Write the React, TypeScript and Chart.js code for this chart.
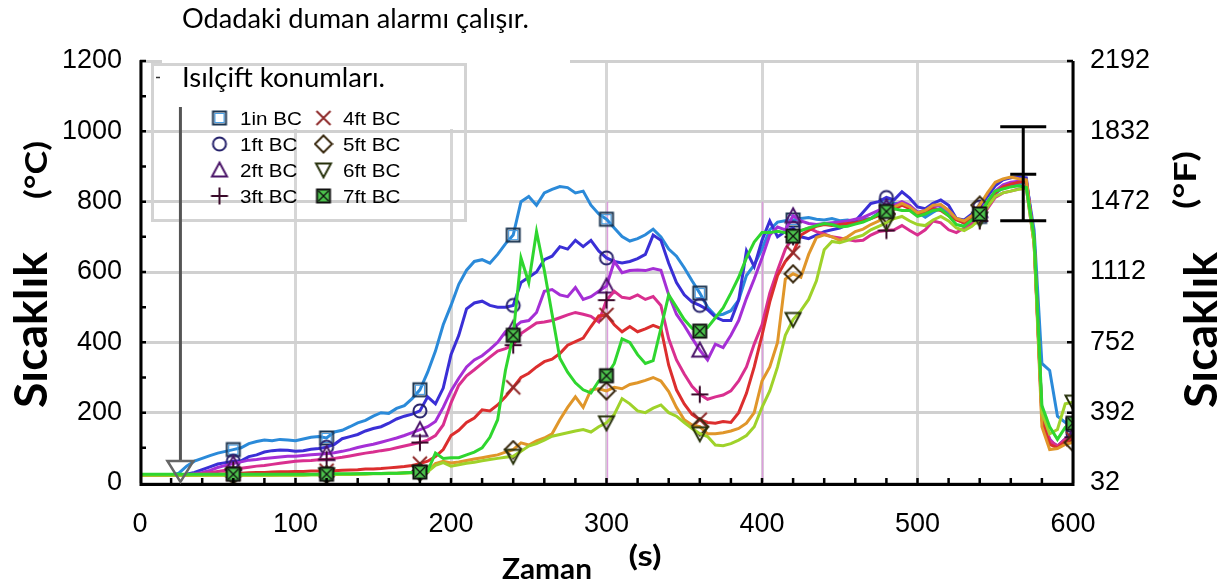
import React, { useEffect, useRef } from 'react';
import { Chart, registerables } from 'chart.js';

Chart.register(...registerables);

// ---------- data ----------
const timeS = [
  0, 5, 10, 15, 20, 25, 30, 35, 40, 45,
  50, 55, 60, 65, 70, 75, 80, 85, 90, 95,
  100, 105, 110, 115, 120, 125, 130, 135, 140, 145,
  150, 155, 160, 165, 170, 175, 180, 185, 190, 195,
  200, 205, 210, 215, 220, 225, 230, 235, 240, 245,
  250, 255, 260, 265, 270, 275, 280, 285, 290, 295,
  300, 305, 310, 315, 320, 325, 330, 335, 340, 345,
  350, 355, 360, 365, 370, 375, 380, 385, 390, 395,
  400, 405, 410, 415, 420, 425, 430, 435, 440, 445,
  450, 455, 460, 465, 470, 475, 480, 485, 490, 495,
  500, 505, 510, 515, 520, 525, 530, 535, 540, 545,
  550, 555, 560, 565, 570, 575, 580, 585, 590, 595,
  600,
];

const t1in = [
  22, 22, 22, 22, 23, 28, 48, 62, 70, 78,
  85, 90, 95, 100, 112, 118, 122, 120, 124, 122,
  120, 125, 130, 132, 128, 145, 150, 160, 171, 178,
  190, 200, 198, 212, 220, 240, 265, 315, 375, 450,
  505, 565, 605, 630, 635, 625, 650, 680, 705, 800,
  815, 790, 825, 835, 843, 840, 825, 830, 790, 765,
  750, 725, 701, 688, 695, 706, 722, 700, 665, 645,
  612, 575, 540, 500, 476, 480, 490, 520, 590, 620,
  665, 720, 742, 746, 748, 752, 755, 750, 748, 752,
  746, 748, 744, 750, 752, 768, 788, 795, 795, 785,
  770, 756, 770, 782, 770, 752, 738, 745, 758, 790,
  822, 840, 846, 850, 856, 720, 340, 320, 190, 172,
  165,
];
const t1ft = [
  22, 22, 22, 22, 22, 23, 25, 30, 38, 46,
  54, 58, 62, 63, 75, 80, 88, 92, 94, 93,
  90, 92, 96, 98, 102, 110, 126, 132, 138, 148,
  155, 160, 170, 182, 190, 196, 205, 245, 225, 270,
  365, 420, 495, 512, 517, 505, 500, 500, 505, 570,
  585, 600, 635, 645, 672, 665, 690, 672, 690, 660,
  640, 630, 626, 630, 638, 650, 705, 690, 625, 570,
  535, 515, 505, 493, 472, 462, 462, 520, 660, 615,
  690, 745, 700, 715, 725, 700, 695, 705, 715, 720,
  725, 735, 745, 770, 795, 800, 812, 805, 828, 810,
  785, 780, 795, 805, 790, 752, 748, 765, 785, 815,
  845, 862, 868, 871, 868, 690, 200, 120, 105, 125,
  140,
];
const t2ft = [
  22, 22, 22, 22, 22, 22, 23, 26, 30, 36,
  44, 50, 55, 60, 65, 67, 70, 72, 74, 76,
  76, 78, 80, 82, 84, 86, 90, 95, 101, 106,
  110, 116, 122, 128, 135, 143, 152, 160, 175, 215,
  262, 298, 330, 350, 362, 380, 400, 430, 440, 458,
  462, 485, 545, 550, 535, 530, 556, 522, 530, 545,
  560, 630, 598, 604, 606, 604, 610, 605, 535, 480,
  448, 412, 378, 350, 395, 385, 420, 462, 525, 580,
  640, 705, 728, 720, 760, 745, 738, 735, 738, 740,
  742, 745, 750, 755, 765, 775, 785, 790, 800, 790,
  770, 775, 785, 790, 775, 750, 742, 755, 775, 800,
  830, 848, 855, 858, 860, 700, 190, 125, 100, 120,
  135,
];
const t3ft = [
  22, 22, 22, 22, 22, 22, 22, 24, 27, 30,
  33, 36, 38, 42, 45, 48, 50, 53, 56, 59,
  62, 63, 64, 66, 67, 70, 73, 77, 81, 85,
  88, 92, 95, 100, 105, 110, 115, 122, 135, 165,
  228, 278, 305, 322, 340, 358, 375, 382, 392, 425,
  440, 455, 458, 462, 470, 478, 485, 480, 474, 458,
  520, 545, 528, 525, 535, 522, 530, 505, 410, 350,
  310, 275, 252, 238, 245, 250, 262, 290, 330, 395,
  450, 540, 605, 665, 700, 718, 725, 715, 708, 700,
  697, 692, 688, 690, 705, 715, 718, 720, 732, 718,
  705, 720, 745, 740, 720, 712, 725, 738, 745, 780,
  812, 825, 830, 836, 838, 680, 200, 120, 105, 125,
  130,
];
const t4ft = [
  22, 22, 22, 22, 22, 22, 22, 22, 23, 24,
  25, 26, 27, 28, 29, 30, 30, 31, 32, 32,
  33, 33, 34, 34, 35, 35, 36, 37, 38, 40,
  40, 41, 43, 45, 47, 50, 55, 62, 75, 95,
  135, 150, 172, 185, 208, 205, 222, 245, 272, 300,
  312, 330, 345, 352, 368, 392, 402, 412, 445, 475,
  478, 450, 430, 445, 430, 438, 448, 440, 335, 265,
  225, 195, 180, 172, 170, 175, 172, 200, 255, 330,
  420, 515, 590, 630, 655, 705, 718, 730, 735, 732,
  735, 738, 740, 745, 752, 760, 770, 778, 790, 780,
  762, 770, 780, 775, 760, 748, 740, 752, 768, 795,
  825, 842, 850, 855, 858, 690, 180, 110, 100, 118,
  125,
];
const t5ft = [
  22, 22, 22, 22, 22, 22, 22, 22, 22, 22,
  22, 22, 22, 22, 22, 22, 22, 22, 23, 23,
  23, 23, 24, 24, 24, 25, 25, 25, 26, 26,
  27, 27, 28, 28, 29, 30, 31, 33, 55, 62,
  57, 60, 64, 68, 72, 76, 80, 88, 95, 114,
  108, 120, 128, 140, 180, 215, 245, 215, 265, 268,
  262, 272, 268, 280, 285, 292, 300, 290, 260, 215,
  180, 165, 160, 140, 140, 143, 148, 155, 170, 200,
  290, 330, 400, 580, 595, 585, 650, 698, 706, 700,
  690, 700, 715, 722, 735, 745, 765, 785, 795, 785,
  768, 775, 790, 792, 775, 752, 745, 760, 790, 825,
  855, 865, 870, 865, 862, 680, 160, 95, 98, 110,
  115,
];
const t6ft = [
  22, 22, 22, 22, 22, 22, 22, 22, 22, 22,
  22, 22, 22, 22, 22, 22, 22, 22, 22, 22,
  22, 22, 23, 23, 23, 24, 24, 24, 25, 25,
  26, 26, 27, 27, 28, 29, 30, 32, 50, 58,
  48, 52, 56, 59, 63, 67, 70, 73, 76, 90,
  105, 112, 122, 133, 138, 143, 148, 152, 145, 160,
  171, 195, 240, 225, 205, 200, 213, 222, 200, 190,
  172, 155, 140, 132, 108, 106, 112, 122, 135, 160,
  215, 262, 330, 420, 465, 490, 522, 575, 663, 687,
  683, 690, 698, 705, 720, 730, 740, 752, 758, 745,
  735, 732, 748, 758, 745, 725, 718, 730, 750, 785,
  815, 825, 830, 835, 838, 680, 200, 140, 152, 225,
  230,
];
const t7ft = [
  25, 25, 25, 25, 25, 25, 25, 25, 25, 25,
  25, 25, 25, 25, 25, 25, 25, 25, 25, 25,
  25, 25, 25, 25, 25, 26, 26, 26, 26, 27,
  27, 27, 28, 28, 29, 30, 31, 34, 85, 70,
  72, 72, 80, 88, 100, 130, 180, 320, 420, 640,
  570, 715, 605, 480, 355, 315, 285, 265, 256, 290,
  305, 340, 410, 400, 365, 340, 348, 440, 535, 500,
  465, 440, 432, 442, 470, 498, 540, 585, 640, 685,
  712, 712, 716, 712, 702, 718, 725, 732, 738, 735,
  728, 730, 736, 742, 752, 765, 772, 780, 775, 775,
  758, 765, 775, 778, 760, 735, 730, 748, 765, 800,
  830, 836, 842, 845, 840, 700, 220, 160, 124, 158,
  170,
];

const seriesNames = ['1in BC', '1ft BC', '2ft BC', '3ft BC', '4ft BC', '5ft BC', '6ft BC', '7ft BC'];
const seriesValues = [t1in, t1ft, t2ft, t3ft, t4ft, t5ft, t6ft, t7ft];
const seriesColors = ['#2b8ad9', '#3a2fd6', '#a52fd6', '#d92f8f', '#dc2e2e', '#e0962a', '#9fd22a', '#2fd62f'];
const markerKinds = ['square', 'circle', 'triangle', 'plus', 'cross', 'diamond', 'invtriangle', 'xsquare'];

const xTickValues = [0, 100, 200, 300, 400, 500, 600];
const yTickC = [0, 200, 400, 600, 800, 1000, 1200];
const yTickF = [32, 392, 752, 1112, 1472, 1832, 2192];

const alarmTime = 26; // smoke alarm activation (s)
const errTime = 568;
const errLow = 746;
const errMid = 878;
const errHigh = 1013;

const guideTimes = [300, 400];

const SANS = '"Liberation Sans", Arial, Helvetica, sans-serif';

// ---------- helpers ----------
function makeMarker(kind: string): HTMLCanvasElement {
  const c = document.createElement('canvas');
  c.width = 20;
  c.height = 20;
  const g = c.getContext('2d')!;
  g.lineJoin = 'miter';
  g.lineCap = 'butt';
  const poly = (pts: number[][]) => {
    g.beginPath();
    g.moveTo(pts[0][0], pts[0][1]);
    for (let i = 1; i < pts.length; i++) g.lineTo(pts[i][0], pts[i][1]);
    g.closePath();
  };
  switch (kind) {
    case 'square':
      g.strokeStyle = '#1b3550';
      g.lineWidth = 2;
      g.strokeRect(3.5, 3.5, 13, 13);
      g.strokeStyle = '#4aa0e6';
      g.lineWidth = 1;
      g.strokeRect(5.5, 5.5, 9, 9);
      break;
    case 'circle':
      g.strokeStyle = '#24206a';
      g.lineWidth = 2;
      g.beginPath();
      g.arc(10, 10, 6.5, 0, Math.PI * 2);
      g.stroke();
      break;
    case 'triangle':
      g.strokeStyle = '#4a1468';
      g.lineWidth = 2;
      poly([[10, 2.5], [17.5, 16.5], [2.5, 16.5]]);
      g.stroke();
      break;
    case 'plus':
      g.strokeStyle = '#3a0a2a';
      g.lineWidth = 2;
      g.beginPath();
      g.moveTo(10, 1.5); g.lineTo(10, 18.5);
      g.moveTo(1.5, 10); g.lineTo(18.5, 10);
      g.stroke();
      break;
    case 'cross':
      g.strokeStyle = '#8e2a2a';
      g.lineWidth = 2;
      g.beginPath();
      g.moveTo(3, 3); g.lineTo(17, 17);
      g.moveTo(17, 3); g.lineTo(3, 17);
      g.stroke();
      break;
    case 'diamond':
      g.strokeStyle = '#3a2a10';
      g.lineWidth = 2;
      poly([[10, 1.5], [18.5, 10], [10, 18.5], [1.5, 10]]);
      g.stroke();
      break;
    case 'invtriangle':
      g.strokeStyle = '#26300a';
      g.lineWidth = 2;
      poly([[2.5, 3.5], [17.5, 3.5], [10, 17.5]]);
      g.stroke();
      break;
    case 'xsquare':
      g.fillStyle = '#4cc24c';
      g.fillRect(3.5, 3.5, 13, 13);
      g.strokeStyle = '#101010';
      g.lineWidth = 2;
      g.strokeRect(3.5, 3.5, 13, 13);
      g.lineWidth = 1.3;
      g.beginPath();
      g.moveTo(5, 5); g.lineTo(15, 15);
      g.moveTo(15, 5); g.lineTo(5, 15);
      g.stroke();
      break;
  }
  return c;
}

function fitText(
  ctx: CanvasRenderingContext2D,
  text: string,
  x: number,
  y: number,
  font: string,
  targetW: number,
  align: CanvasTextAlign,
  rot = 0,
) {
  ctx.save();
  ctx.font = font;
  const w = ctx.measureText(text).width;
  ctx.translate(x, y);
  ctx.rotate(rot);
  ctx.scale(targetW / w, 1);
  ctx.textAlign = align;
  ctx.textBaseline = 'alphabetic';
  ctx.fillStyle = '#000';
  ctx.fillText(text, 0, 0);
  ctx.restore();
}

export default function App() {
  const canvasRef = useRef<HTMLCanvasElement | null>(null);

  useEffect(() => {
    const canvas = canvasRef.current;
    if (!canvas) return;
    const markers = markerKinds.map(makeMarker);

    const overlay = {
      id: 'overlay',
      beforeDatasetsDraw(chart: any) {
        const ctx: CanvasRenderingContext2D = chart.ctx;
        const xs = chart.scales.x;
        const ys = chart.scales.y;
        ctx.save();
        ctx.strokeStyle = 'rgba(225,120,225,0.6)';
        ctx.lineWidth = 1.5;
        guideTimes.forEach((t) => {
          const px = Math.round(xs.getPixelForValue(t)) + 0.5;
          ctx.beginPath();
          ctx.moveTo(px, ys.getPixelForValue(800));
          ctx.lineTo(px, ys.getPixelForValue(0));
          ctx.stroke();
        });
        ctx.restore();
      },
      afterDatasetsDraw(chart: any) {
        const ctx: CanvasRenderingContext2D = chart.ctx;
        const xs = chart.scales.x;
        const ys = chart.scales.y;
        const area = chart.chartArea;

        // error bar
        ctx.save();
        ctx.strokeStyle = '#000';
        ctx.lineWidth = 3;
        const ex = xs.getPixelForValue(errTime);
        const eh = ys.getPixelForValue(errHigh);
        const el = ys.getPixelForValue(errLow);
        const em = ys.getPixelForValue(errMid);
        ctx.beginPath();
        ctx.moveTo(ex, eh); ctx.lineTo(ex, el);
        ctx.moveTo(ex - 23, eh); ctx.lineTo(ex + 23, eh);
        ctx.moveTo(ex - 23, el); ctx.lineTo(ex + 23, el);
        ctx.moveTo(ex - 13, em); ctx.lineTo(ex + 13, em);
        ctx.stroke();
        ctx.restore();

        // axes lines
        ctx.save();
        ctx.strokeStyle = '#000';
        ctx.lineWidth = 3;
        ctx.beginPath();
        ctx.moveTo(area.left + 1, area.top - 1);
        ctx.lineTo(area.left + 1, area.bottom + 3);
        ctx.moveTo(area.left, area.bottom + 1.5);
        ctx.lineTo(area.right + 1.5, area.bottom + 1.5);
        ctx.moveTo(area.right, area.top);
        ctx.lineTo(area.right, area.bottom + 3);
        ctx.stroke();
        // ticks
        ctx.lineWidth = 2.5;
        ctx.beginPath();
        for (let t = 20; t < 600; t += 20) {
          const px = xs.getPixelForValue(t);
          ctx.moveTo(px, area.bottom);
          ctx.lineTo(px, area.bottom - 5);
        }
        for (let v = 100; v <= 1200; v += 100) {
          const py = ys.getPixelForValue(v);
          ctx.moveTo(area.left, py);
          ctx.lineTo(area.left + 6, py);
        }
        for (let v = 200; v <= 1200; v += 200) {
          const py = ys.getPixelForValue(v);
          ctx.moveTo(area.right, py);
          ctx.lineTo(area.right - 6, py);
        }
        ctx.stroke();
        ctx.restore();

        // hide top gridline behind annotation
        ctx.save();
        ctx.fillStyle = '#fff';
        ctx.fillRect(162, 56, 408, 7);
        // legend box
        ctx.fillRect(154, 66, 310, 63);
        ctx.strokeStyle = '#d3d3d3';
        ctx.lineWidth = 3;
        ctx.strokeRect(152.5, 64.5, 313, 156);
        ctx.strokeStyle = '#333';
        ctx.lineWidth = 1.5;
        ctx.beginPath();
        ctx.moveTo(156, 77.5); ctx.lineTo(160, 77.5);
        ctx.stroke();
        ctx.restore();

        // smoke alarm arrow
        const ax = xs.getPixelForValue(alarmTime);
        ctx.save();
        ctx.strokeStyle = '#555';
        ctx.lineWidth = 3;
        ctx.beginPath();
        ctx.moveTo(ax, 107);
        ctx.lineTo(ax, 461);
        ctx.stroke();
        ctx.strokeStyle = '#666';
        ctx.lineWidth = 2.5;
        ctx.beginPath();
        ctx.moveTo(ax - 13, 461);
        ctx.lineTo(ax + 13, 461);
        ctx.lineTo(ax, 482);
        ctx.closePath();
        ctx.stroke();
        ctx.restore();

        // legend title + entries
        fitText(ctx, 'Isılçift konumları.', 182, 87, '26px Lato', 203, 'left');
        const rowsY = [118, 144, 170, 196];
        const colMarkX = [219.5, 323.5];
        const colTextX = [240, 343];
        const legendFont = '18px ' + SANS;
        ctx.save();
        ctx.font = legendFont;
        const baseW = ctx.measureText('1in BC').width;
        ctx.restore();
        const sx = 62 / baseW;
        seriesNames.forEach((name, k) => {
          const col = k < 4 ? 0 : 1;
          const row = k % 4;
          const m = markers[k];
          ctx.drawImage(m, colMarkX[col] - m.width / 2, rowsY[row] - m.height / 2);
          ctx.save();
          ctx.font = legendFont;
          const w = ctx.measureText(name).width;
          ctx.restore();
          fitText(ctx, name, colTextX[col], rowsY[row] + 6.5, legendFont, w * sx, 'left');
        });
      },
      afterDraw(chart: any) {
        const ctx: CanvasRenderingContext2D = chart.ctx;
        fitText(ctx, 'Odadaki duman alarmı çalışır.', 182, 28, '26px Lato', 347, 'left');
        fitText(ctx, 'Sıcaklık', 47, 330, 'bold 46px Lato', 156, 'center', -Math.PI / 2);
        fitText(ctx, '(°C)', 47, 170, 'bold 30px Lato', 58, 'center', -Math.PI / 2);
        fitText(ctx, 'Sıcaklık', 1217, 330, 'bold 46px Lato', 156, 'center', -Math.PI / 2);
        fitText(ctx, '(°F)', 1196, 180, 'bold 30px Lato', 58, 'center', -Math.PI / 2);
        fitText(ctx, 'Zaman', 547, 579, 'bold 29px Lato', 90, 'center');
        fitText(ctx, '(s)', 645, 566, 'bold 28px Lato', 33, 'center');
      },
    };

    const datasets = seriesValues.map((vals, k) => ({
      label: seriesNames[k],
      data: timeS.map((t, i) => ({ x: t, y: vals[i] })),
      borderColor: seriesColors[k],
      backgroundColor: seriesColors[k],
      borderWidth: 3,
      pointStyle: markers[k],
      pointRadius: (c: any) => {
        const t = timeS[c.dataIndex];
        return t > 0 && t % 60 === 0 ? 8 : 0;
      },
      pointHoverRadius: 0,
      tension: 0,
      fill: false,
      order: 7 - k,
      xAxisID: 'x',
      yAxisID: 'y',
    }));

    const tickFont = { family: SANS, size: 27 };

    const chart = new Chart(canvas, {
      type: 'line',
      data: { datasets },
      options: {
        responsive: false,
        animation: false,
        devicePixelRatio: 1,
        layout: { padding: { top: 61, left: 0, right: 0, bottom: 0 } },
        plugins: {
          legend: { display: false },
          tooltip: { enabled: false },
          title: { display: false },
        },
        scales: {
          x: {
            type: 'linear',
            position: 'bottom',
            min: 0,
            max: 600,
            afterBuildTicks: (s: any) => {
              s.ticks = xTickValues.map((v) => ({ value: v }));
            },
            afterFit: (s: any) => {
              s.height = 100;
            },
            ticks: {
              font: tickFont,
              color: '#000',
              padding: 25,
              maxRotation: 0,
              autoSkip: false,
              callback: (v: any) => String(v),
            },
            grid: { color: '#d6d6d6', lineWidth: 3, drawTicks: false },
            border: { display: false },
          },
          y: {
            type: 'linear',
            position: 'left',
            min: 0,
            max: 1200,
            afterBuildTicks: (s: any) => {
              s.ticks = yTickC.map((v) => ({ value: v }));
            },
            afterFit: (s: any) => {
              s.width = 140;
            },
            ticks: {
              font: tickFont,
              color: '#000',
              padding: 18,
              callback: (v: any) => String(v),
            },
            grid: { color: '#d0d0d0', lineWidth: 3, drawTicks: false },
            border: { display: false },
          },
          y2: {
            type: 'linear',
            position: 'right',
            min: 32,
            max: 2192,
            afterBuildTicks: (s: any) => {
              s.ticks = yTickF.map((v) => ({ value: v }));
            },
            afterFit: (s: any) => {
              s.width = 147;
            },
            ticks: {
              font: tickFont,
              color: '#000',
              padding: 17,
              callback: (v: any) => String(v),
            },
            grid: { display: false, drawTicks: false },
            border: { display: false },
          },
        },
      },
      plugins: [overlay],
    } as any);

    return () => {
      chart.destroy();
    };
  }, []);

  return (
    <div style={{ position: 'absolute', left: 0, top: 0, width: 1220, height: 583, background: '#fff' }}>
      <canvas ref={canvasRef} width={1220} height={583} style={{ width: 1220, height: 583, display: 'block' }} />
    </div>
  );
}
